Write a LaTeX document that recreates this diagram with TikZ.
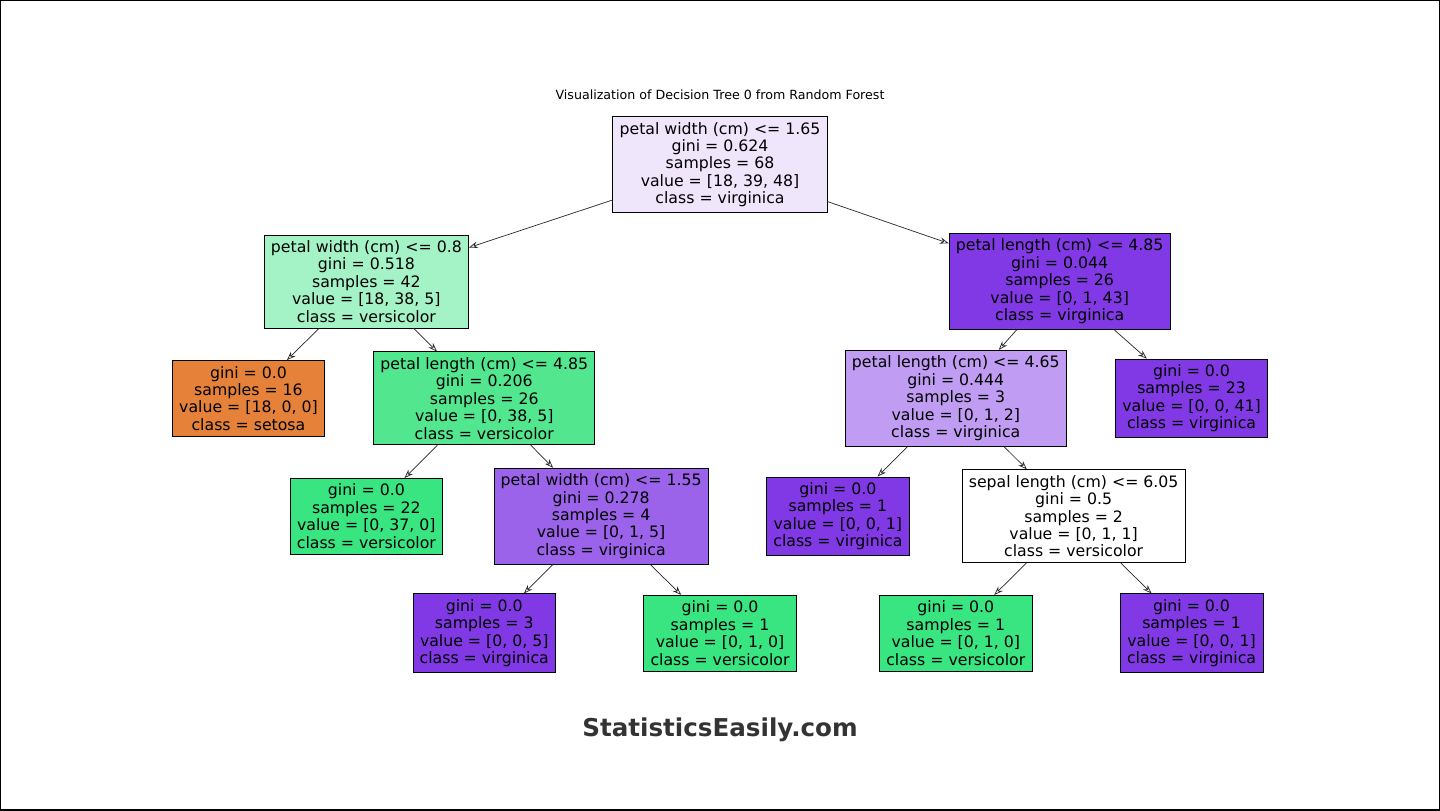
\documentclass[tikz,border=0pt]{standalone}
\usepackage{fontspec}
\setmainfont{DejaVu Sans}
\usetikzlibrary{arrows.meta}
\definecolor{cRoot}{HTML}{EFE6FC}
\definecolor{cVer}{HTML}{A3F3C6}
\definecolor{cVir}{HTML}{8139E5}
\definecolor{cSet}{HTML}{E58139}
\definecolor{cVerB}{HTML}{52E78F}
\definecolor{cVirL}{HTML}{C09CF2}
\definecolor{cVirM}{HTML}{9B62EA}
\definecolor{cVerF}{HTML}{39E581}
\definecolor{cMark}{HTML}{333333}
\begin{document}
\begin{tikzpicture}[x=0.25mm, y=-0.25mm,
    font=\fontsize{11.2}{12.4}\selectfont,
    leaf/.style={
        rectangle,
        draw=black,
        line width=0.5pt,
        align=center,
        inner xsep=1.7mm,
        inner ysep=1.4mm
    },
    arrow/.style={-{Stealth[length=2.2mm,width=1.6mm,open]}, line width=0.5pt, black!85}
]
\draw[line width=1pt] (0,0) rectangle (1440,810);
\useasboundingbox (0,0) rectangle (1440,810);

% ===== title =====
\node[font=\fontsize{9}{10}\selectfont] (title) at (720,94) {Visualization of Decision Tree 0 from Random Forest};

% ===== depth 0-1 =====
\node[leaf, fill=cRoot] (root) at (720,164) {petal width (cm) <= 1.65\\gini = 0.624\\samples = 68\\value = [18, 39, 48]\\class = virginica};
\node[leaf, fill=cVer] (pwl) at (366,281) {petal width (cm) <= 0.8\\gini = 0.518\\samples = 42\\value = [18, 38, 5]\\class = versicolor};
\node[leaf, fill=cVir] (plr) at (1060,281) {petal length (cm) <= 4.85\\gini = 0.044\\samples = 26\\value = [0, 1, 43]\\class = virginica};

% ===== depth 2 =====
\node[leaf, fill=cSet] (setosa) at (248,398) {gini = 0.0\\samples = 16\\value = [18, 0, 0]\\class = setosa};
\node[leaf, fill=cVerB] (pll) at (484,398) {petal length (cm) <= 4.85\\gini = 0.206\\samples = 26\\value = [0, 38, 5]\\class = versicolor};
\node[leaf, fill=cVirL] (plm) at (956,398) {petal length (cm) <= 4.65\\gini = 0.444\\samples = 3\\value = [0, 1, 2]\\class = virginica};
\node[leaf, fill=cVir] (virA) at (1192,398) {gini = 0.0\\samples = 23\\value = [0, 0, 41]\\class = virginica};

% ===== depth 3 =====
\node[leaf, fill=cVerF] (verA) at (366,516) {gini = 0.0\\samples = 22\\value = [0, 37, 0]\\class = versicolor};
\node[leaf, fill=cVirM] (pwm) at (601,516) {petal width (cm) <= 1.55\\gini = 0.278\\samples = 4\\value = [0, 1, 5]\\class = virginica};
\node[leaf, fill=cVir] (virB) at (838,516) {gini = 0.0\\samples = 1\\value = [0, 0, 1]\\class = virginica};
\node[leaf, fill=white] (slm) at (1074,516) {sepal length (cm) <= 6.05\\gini = 0.5\\samples = 2\\value = [0, 1, 1]\\class = versicolor};

% ===== depth 4 =====
\node[leaf, fill=cVir] (virC) at (484,633) {gini = 0.0\\samples = 3\\value = [0, 0, 5]\\class = virginica};
\node[leaf, fill=cVerF] (verB) at (720,633) {gini = 0.0\\samples = 1\\value = [0, 1, 0]\\class = versicolor};
\node[leaf, fill=cVerF] (verC) at (956,633) {gini = 0.0\\samples = 1\\value = [0, 1, 0]\\class = versicolor};
\node[leaf, fill=cVir] (virD) at (1192,633) {gini = 0.0\\samples = 1\\value = [0, 0, 1]\\class = virginica};

\draw[arrow] (root) -- (pwl);
\draw[arrow] (root) -- (plr);
\draw[arrow] (pwl) -- (setosa);
\draw[arrow] (pwl) -- (pll);
\draw[arrow] (plr) -- (plm);
\draw[arrow] (plr) -- (virA);
\draw[arrow] (pll) -- (verA);
\draw[arrow] (pll) -- (pwm);
\draw[arrow] (plm) -- (virB);
\draw[arrow] (plm) -- (slm);
\draw[arrow] (pwm) -- (virC);
\draw[arrow] (pwm) -- (verB);
\draw[arrow] (slm) -- (verC);
\draw[arrow] (slm) -- (virD);

% ===== watermark =====
\node[font=\fontsize{17.5}{21}\selectfont\bfseries, text=cMark] (mark) at (720,730) {StatisticsEasily.com};
\end{tikzpicture}
\end{document}
